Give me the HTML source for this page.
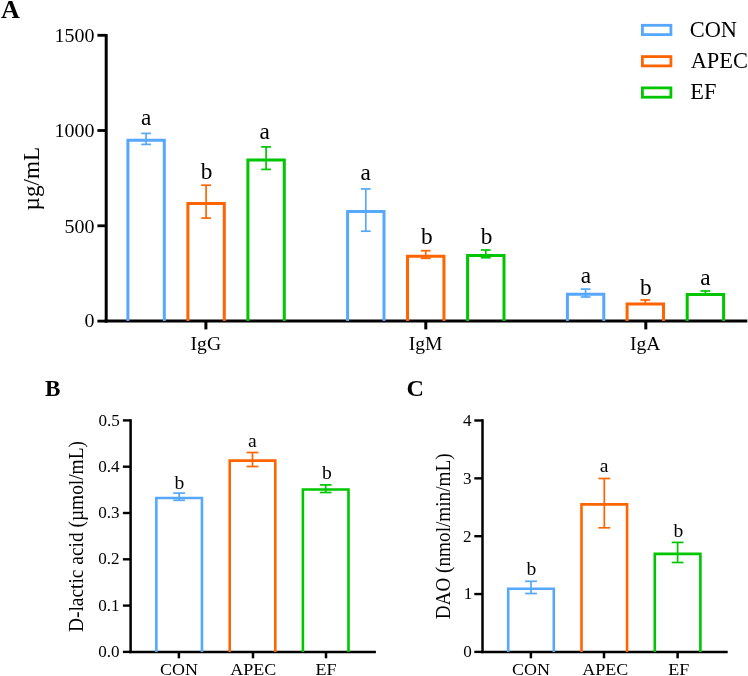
<!DOCTYPE html>
<html><head><meta charset="utf-8"><style>
html,body{margin:0;padding:0;background:#fff;}
body{width:748px;height:676px;overflow:hidden;}
svg{display:block;font-family:"Liberation Serif", serif;fill:#000;will-change:transform;}

</style></head><body>
<svg width="748" height="676" viewBox="0 0 748 676">
<rect width="748" height="676" fill="#fff"/>
<text transform="translate(1.09,18.33)" font-size="26" font-weight="bold">A</text>
<line x1="106.20" y1="33.90" x2="106.20" y2="322.60" stroke="#000" stroke-width="3"/>
<line x1="104.70" y1="321.10" x2="747.30" y2="321.10" stroke="#000" stroke-width="3"/>
<line x1="97.40" y1="35.30" x2="106.20" y2="35.30" stroke="#000" stroke-width="2.8"/>
<text transform="translate(54.52,41.82) scale(1.020,1)" font-size="19.6" font-weight="normal">1500</text>
<line x1="97.40" y1="130.50" x2="106.20" y2="130.50" stroke="#000" stroke-width="2.8"/>
<text transform="translate(54.42,137.37) scale(1.020,1)" font-size="19.6" font-weight="normal">1000</text>
<line x1="97.40" y1="225.80" x2="106.20" y2="225.80" stroke="#000" stroke-width="2.8"/>
<text transform="translate(64.41,232.82) scale(1.020,1)" font-size="19.6" font-weight="normal">500</text>
<line x1="97.40" y1="321.10" x2="106.20" y2="321.10" stroke="#000" stroke-width="2.8"/>
<text transform="translate(84.40,327.17) scale(1.020,1)" font-size="19.6" font-weight="normal">0</text>
<line x1="205.90" y1="321.10" x2="205.90" y2="329.40" stroke="#000" stroke-width="3"/>
<text transform="translate(190.56,349.74)" font-size="19.6" font-weight="normal">IgG</text>
<line x1="425.80" y1="321.10" x2="425.80" y2="329.40" stroke="#000" stroke-width="3"/>
<text transform="translate(408.70,349.74)" font-size="19.6" font-weight="normal">IgM</text>
<line x1="645.80" y1="321.10" x2="645.80" y2="329.40" stroke="#000" stroke-width="3"/>
<text transform="translate(630.02,349.94)" font-size="19.6" font-weight="normal">IgA</text>
<text transform="translate(38.75,210.39) rotate(-90)" font-size="23.2" font-weight="normal">µg/mL</text>
<path d="M127.90,321.10 V140.20 H164.30 V321.10" fill="none" stroke="#55a8fd" stroke-width="3.0" stroke-linejoin="miter"/>
<line x1="146.10" y1="133.40" x2="146.10" y2="144.40" stroke="#55a8fd" stroke-width="1.7"/>
<line x1="141.20" y1="133.40" x2="151.00" y2="133.40" stroke="#55a8fd" stroke-width="1.7"/>
<line x1="141.20" y1="144.40" x2="151.00" y2="144.40" stroke="#55a8fd" stroke-width="1.7"/>
<text transform="translate(141.05,125.37)" font-size="23.3" font-weight="normal">a</text>
<path d="M187.90,321.10 V203.50 H224.30 V321.10" fill="none" stroke="#ff6400" stroke-width="3.0" stroke-linejoin="miter"/>
<line x1="206.10" y1="185.20" x2="206.10" y2="218.10" stroke="#ff6400" stroke-width="1.7"/>
<line x1="201.20" y1="185.20" x2="211.00" y2="185.20" stroke="#ff6400" stroke-width="1.7"/>
<line x1="201.20" y1="218.10" x2="211.00" y2="218.10" stroke="#ff6400" stroke-width="1.7"/>
<text transform="translate(200.69,178.87)" font-size="23.3" font-weight="normal">b</text>
<path d="M247.90,321.10 V160.00 H284.30 V321.10" fill="none" stroke="#00c600" stroke-width="3.0" stroke-linejoin="miter"/>
<line x1="266.10" y1="146.90" x2="266.10" y2="169.40" stroke="#00c600" stroke-width="1.7"/>
<line x1="261.20" y1="146.90" x2="271.00" y2="146.90" stroke="#00c600" stroke-width="1.7"/>
<line x1="261.20" y1="169.40" x2="271.00" y2="169.40" stroke="#00c600" stroke-width="1.7"/>
<text transform="translate(259.42,139.17)" font-size="23.3" font-weight="normal">a</text>
<path d="M347.60,321.10 V211.40 H384.00 V321.10" fill="none" stroke="#55a8fd" stroke-width="3.0" stroke-linejoin="miter"/>
<line x1="365.80" y1="188.90" x2="365.80" y2="231.20" stroke="#55a8fd" stroke-width="1.7"/>
<line x1="360.90" y1="188.90" x2="370.70" y2="188.90" stroke="#55a8fd" stroke-width="1.7"/>
<line x1="360.90" y1="231.20" x2="370.70" y2="231.20" stroke="#55a8fd" stroke-width="1.7"/>
<text transform="translate(360.42,180.17)" font-size="23.3" font-weight="normal">a</text>
<path d="M407.55,321.10 V256.20 H443.95 V321.10" fill="none" stroke="#ff6400" stroke-width="3.0" stroke-linejoin="miter"/>
<line x1="425.75" y1="250.70" x2="425.75" y2="258.30" stroke="#ff6400" stroke-width="1.7"/>
<line x1="420.85" y1="250.70" x2="430.65" y2="250.70" stroke="#ff6400" stroke-width="1.7"/>
<line x1="420.85" y1="258.30" x2="430.65" y2="258.30" stroke="#ff6400" stroke-width="1.7"/>
<text transform="translate(421.09,243.77)" font-size="23.3" font-weight="normal">b</text>
<path d="M467.60,321.10 V255.50 H504.00 V321.10" fill="none" stroke="#00c600" stroke-width="3.0" stroke-linejoin="miter"/>
<line x1="485.80" y1="250.00" x2="485.80" y2="257.70" stroke="#00c600" stroke-width="1.7"/>
<line x1="480.90" y1="250.00" x2="490.70" y2="250.00" stroke="#00c600" stroke-width="1.7"/>
<line x1="480.90" y1="257.70" x2="490.70" y2="257.70" stroke="#00c600" stroke-width="1.7"/>
<text transform="translate(480.69,243.77)" font-size="23.3" font-weight="normal">b</text>
<path d="M567.40,321.10 V294.20 H603.80 V321.10" fill="none" stroke="#55a8fd" stroke-width="3.0" stroke-linejoin="miter"/>
<line x1="585.60" y1="289.10" x2="585.60" y2="297.00" stroke="#55a8fd" stroke-width="1.7"/>
<line x1="580.70" y1="289.10" x2="590.50" y2="289.10" stroke="#55a8fd" stroke-width="1.7"/>
<line x1="580.70" y1="297.00" x2="590.50" y2="297.00" stroke="#55a8fd" stroke-width="1.7"/>
<text transform="translate(580.72,283.07)" font-size="23.3" font-weight="normal">a</text>
<path d="M627.10,321.10 V303.90 H663.50 V321.10" fill="none" stroke="#ff6400" stroke-width="3.0" stroke-linejoin="miter"/>
<line x1="645.30" y1="300.00" x2="645.30" y2="303.90" stroke="#ff6400" stroke-width="1.7"/>
<line x1="640.40" y1="300.00" x2="650.20" y2="300.00" stroke="#ff6400" stroke-width="1.7"/>
<line x1="640.40" y1="303.90" x2="650.20" y2="303.90" stroke="#ff6400" stroke-width="1.7"/>
<text transform="translate(639.89,295.27)" font-size="23.3" font-weight="normal">b</text>
<path d="M687.20,321.10 V294.50 H723.60 V321.10" fill="none" stroke="#00c600" stroke-width="3.0" stroke-linejoin="miter"/>
<line x1="705.40" y1="291.00" x2="705.40" y2="294.50" stroke="#00c600" stroke-width="1.7"/>
<line x1="700.50" y1="291.00" x2="710.30" y2="291.00" stroke="#00c600" stroke-width="1.7"/>
<line x1="700.50" y1="294.50" x2="710.30" y2="294.50" stroke="#00c600" stroke-width="1.7"/>
<text transform="translate(700.27,285.27)" font-size="23.3" font-weight="normal">a</text>
<rect x="642.4" y="25.30" width="28.50" height="9.30" fill="none" stroke="#55a8fd" stroke-width="2.8"/>
<text transform="translate(689.70,36.55)" font-size="22.4" font-weight="normal">CON</text>
<rect x="642.4" y="56.60" width="28.50" height="9.30" fill="none" stroke="#ff6400" stroke-width="2.8"/>
<text transform="translate(690.68,67.65)" font-size="22.4" font-weight="normal">APEC</text>
<rect x="642.4" y="87.90" width="28.50" height="9.30" fill="none" stroke="#00c600" stroke-width="2.8"/>
<text transform="translate(690.23,99.00)" font-size="22.4" font-weight="normal">EF</text>
<text transform="translate(44.88,395.96) scale(1.020,1)" font-size="22.8" font-weight="bold">B</text>
<line x1="130.60" y1="419.20" x2="130.60" y2="653.15" stroke="#000" stroke-width="2.5"/>
<line x1="129.35" y1="651.90" x2="375.90" y2="651.90" stroke="#000" stroke-width="2.5"/>
<line x1="122.90" y1="651.90" x2="130.60" y2="651.90" stroke="#000" stroke-width="2.4"/>
<text transform="translate(98.15,657.03) scale(1.050,1)" font-size="16.3" font-weight="normal">0.0</text>
<line x1="122.90" y1="605.60" x2="130.60" y2="605.60" stroke="#000" stroke-width="2.4"/>
<text transform="translate(98.15,610.73) scale(1.050,1)" font-size="16.3" font-weight="normal">0.1</text>
<line x1="122.90" y1="559.30" x2="130.60" y2="559.30" stroke="#000" stroke-width="2.4"/>
<text transform="translate(98.15,564.43) scale(1.050,1)" font-size="16.3" font-weight="normal">0.2</text>
<line x1="122.90" y1="513.00" x2="130.60" y2="513.00" stroke="#000" stroke-width="2.4"/>
<text transform="translate(98.15,518.13) scale(1.050,1)" font-size="16.3" font-weight="normal">0.3</text>
<line x1="122.90" y1="466.70" x2="130.60" y2="466.70" stroke="#000" stroke-width="2.4"/>
<text transform="translate(98.15,471.83) scale(1.050,1)" font-size="16.3" font-weight="normal">0.4</text>
<line x1="122.90" y1="420.40" x2="130.60" y2="420.40" stroke="#000" stroke-width="2.4"/>
<text transform="translate(98.49,425.53) scale(1.050,1)" font-size="16.3" font-weight="normal">0.5</text>
<line x1="178.90" y1="651.90" x2="178.90" y2="658.30" stroke="#000" stroke-width="2.5"/>
<text transform="translate(160.10,675.11) scale(1.030,1)" font-size="17.5" font-weight="normal">CON</text>
<line x1="253.00" y1="651.90" x2="253.00" y2="658.30" stroke="#000" stroke-width="2.5"/>
<text transform="translate(230.18,675.30) scale(1.030,1)" font-size="17.5" font-weight="normal">APEC</text>
<line x1="326.00" y1="651.90" x2="326.00" y2="658.30" stroke="#000" stroke-width="2.5"/>
<text transform="translate(315.45,675.39) scale(1.030,1)" font-size="17.5" font-weight="normal">EF</text>
<text transform="translate(82.98,632.01) rotate(-90) scale(0.975,1)" font-size="19.9" font-weight="normal">D-lactic acid (µmol/mL)</text>
<path d="M156.35,651.90 V498.00 H201.95 V651.90" fill="none" stroke="#55a8fd" stroke-width="2.6" stroke-linejoin="miter"/>
<line x1="179.15" y1="493.10" x2="179.15" y2="500.30" stroke="#55a8fd" stroke-width="1.7"/>
<line x1="173.25" y1="493.10" x2="185.05" y2="493.10" stroke="#55a8fd" stroke-width="1.7"/>
<line x1="173.25" y1="500.30" x2="185.05" y2="500.30" stroke="#55a8fd" stroke-width="1.7"/>
<text transform="translate(174.59,488.60)" font-size="19.6" font-weight="normal">b</text>
<path d="M229.70,651.90 V460.60 H275.30 V651.90" fill="none" stroke="#ff6400" stroke-width="2.6" stroke-linejoin="miter"/>
<line x1="252.50" y1="452.50" x2="252.50" y2="466.50" stroke="#ff6400" stroke-width="1.7"/>
<line x1="246.60" y1="452.50" x2="258.40" y2="452.50" stroke="#ff6400" stroke-width="1.7"/>
<line x1="246.60" y1="466.50" x2="258.40" y2="466.50" stroke="#ff6400" stroke-width="1.7"/>
<text transform="translate(248.04,446.90)" font-size="19.6" font-weight="normal">a</text>
<path d="M302.90,651.90 V489.50 H348.50 V651.90" fill="none" stroke="#00c600" stroke-width="2.6" stroke-linejoin="miter"/>
<line x1="325.70" y1="484.90" x2="325.70" y2="492.50" stroke="#00c600" stroke-width="1.7"/>
<line x1="319.80" y1="484.90" x2="331.60" y2="484.90" stroke="#00c600" stroke-width="1.7"/>
<line x1="319.80" y1="492.50" x2="331.60" y2="492.50" stroke="#00c600" stroke-width="1.7"/>
<text transform="translate(321.89,479.30)" font-size="19.6" font-weight="normal">b</text>
<text transform="translate(406.41,396.32) scale(1.040,1)" font-size="23.2" font-weight="bold">C</text>
<line x1="482.50" y1="419.20" x2="482.50" y2="653.15" stroke="#000" stroke-width="2.5"/>
<line x1="481.25" y1="651.90" x2="727.70" y2="651.90" stroke="#000" stroke-width="2.5"/>
<line x1="474.30" y1="651.90" x2="482.50" y2="651.90" stroke="#000" stroke-width="2.4"/>
<text transform="translate(463.33,657.03) scale(1.050,1)" font-size="16.3" font-weight="normal">0</text>
<line x1="474.30" y1="594.05" x2="482.50" y2="594.05" stroke="#000" stroke-width="2.4"/>
<text transform="translate(463.67,599.43) scale(1.050,1)" font-size="16.3" font-weight="normal">1</text>
<line x1="474.30" y1="536.20" x2="482.50" y2="536.20" stroke="#000" stroke-width="2.4"/>
<text transform="translate(462.98,541.50) scale(1.050,1)" font-size="16.3" font-weight="normal">2</text>
<line x1="474.30" y1="478.35" x2="482.50" y2="478.35" stroke="#000" stroke-width="2.4"/>
<text transform="translate(462.98,483.65) scale(1.050,1)" font-size="16.3" font-weight="normal">3</text>
<line x1="474.30" y1="420.50" x2="482.50" y2="420.50" stroke="#000" stroke-width="2.4"/>
<text transform="translate(462.98,425.80) scale(1.050,1)" font-size="16.3" font-weight="normal">4</text>
<line x1="530.90" y1="651.90" x2="530.90" y2="658.30" stroke="#000" stroke-width="2.5"/>
<text transform="translate(512.10,675.11) scale(1.030,1)" font-size="17.5" font-weight="normal">CON</text>
<line x1="604.00" y1="651.90" x2="604.00" y2="658.30" stroke="#000" stroke-width="2.5"/>
<text transform="translate(582.13,675.30) scale(1.030,1)" font-size="17.5" font-weight="normal">APEC</text>
<line x1="677.60" y1="651.90" x2="677.60" y2="658.30" stroke="#000" stroke-width="2.5"/>
<text transform="translate(668.35,675.39) scale(1.030,1)" font-size="17.5" font-weight="normal">EF</text>
<text transform="translate(449.63,619.27) rotate(-90) scale(0.965,1)" font-size="19.9" font-weight="normal">DAO (nmol/min/mL)</text>
<path d="M508.20,651.90 V588.80 H553.80 V651.90" fill="none" stroke="#55a8fd" stroke-width="2.6" stroke-linejoin="miter"/>
<line x1="531.00" y1="581.30" x2="531.00" y2="593.50" stroke="#55a8fd" stroke-width="1.7"/>
<line x1="525.10" y1="581.30" x2="536.90" y2="581.30" stroke="#55a8fd" stroke-width="1.7"/>
<line x1="525.10" y1="593.50" x2="536.90" y2="593.50" stroke="#55a8fd" stroke-width="1.7"/>
<text transform="translate(526.44,574.50)" font-size="19.6" font-weight="normal">b</text>
<path d="M581.50,651.90 V504.40 H627.10 V651.90" fill="none" stroke="#ff6400" stroke-width="2.6" stroke-linejoin="miter"/>
<line x1="604.30" y1="478.50" x2="604.30" y2="527.80" stroke="#ff6400" stroke-width="1.7"/>
<line x1="598.40" y1="478.50" x2="610.20" y2="478.50" stroke="#ff6400" stroke-width="1.7"/>
<line x1="598.40" y1="527.80" x2="610.20" y2="527.80" stroke="#ff6400" stroke-width="1.7"/>
<text transform="translate(599.69,471.90)" font-size="19.6" font-weight="normal">a</text>
<path d="M654.80,651.90 V553.90 H700.40 V651.90" fill="none" stroke="#00c600" stroke-width="2.6" stroke-linejoin="miter"/>
<line x1="677.60" y1="542.40" x2="677.60" y2="562.50" stroke="#00c600" stroke-width="1.7"/>
<line x1="671.70" y1="542.40" x2="683.50" y2="542.40" stroke="#00c600" stroke-width="1.7"/>
<line x1="671.70" y1="562.50" x2="683.50" y2="562.50" stroke="#00c600" stroke-width="1.7"/>
<text transform="translate(673.59,537.30)" font-size="19.6" font-weight="normal">b</text>
</svg>
</body></html>
